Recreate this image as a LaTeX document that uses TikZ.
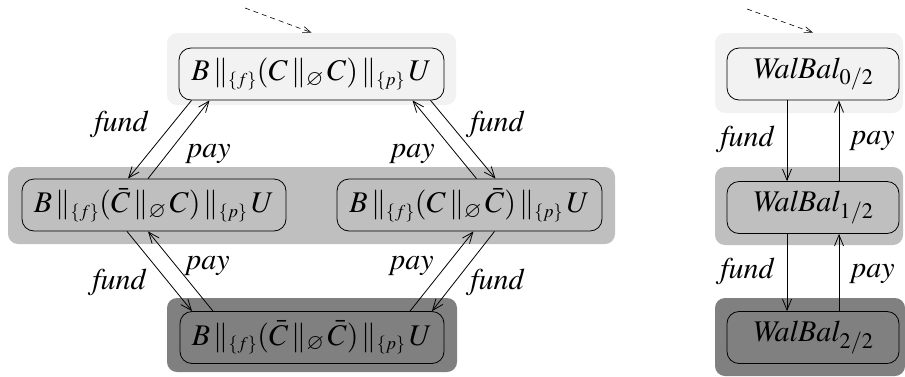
\documentclass[tikz,border=0pt]{standalone}
\usepackage[T1]{fontenc}
\usepackage{mathptmx}
\usepackage{amssymb}
\usetikzlibrary{arrows.meta}

\newcommand{\parsync}[1]{\,\|_{\scriptscriptstyle\{#1\}}}
\newcommand{\parfree}{\,\|_{\varnothing}}

\begin{document}
\begin{tikzpicture}[x=1pt, y=-1pt, line width=0.8pt,
  font=\fontsize{30}{34}\selectfont,
  zone/.style={rounded corners=10pt, inner sep=0pt},
  state/.style={draw, rounded corners=12pt, minimum height=52pt, inner sep=3pt},
  lbl/.style={inner sep=0pt, font=\fontsize{30}{34}\selectfont\itshape},
  >={Straight Barb[length=11pt,width=9pt]}]
  \useasboundingbox (0,0) rectangle (905,376);
  % shaded zones
  \node [zone, fill=gray!10, minimum width=289pt, minimum height=72pt] (topzone) at (311.5,69) {};
  \node [zone, fill=gray!50, minimum width=607pt, minimum height=77pt] (midzone) at (311.5,205.5) {};
  \node [zone, fill=gray, minimum width=290pt, minimum height=74pt] (botzone) at (312,335) {};
  \node [zone, fill=gray!10, minimum width=188pt, minimum height=80pt] (wzone0) at (809,73) {};
  \node [zone, fill=gray!50, minimum width=188pt, minimum height=78pt] (wzone1) at (809,206) {};
  \node [zone, fill=gray, minimum width=190pt, minimum height=78pt] (wzone2) at (810,337) {};
  % states
  \node [state, fill=gray!10, minimum width=265pt] (top) at (311.5,74)
    {$B \parsync{f} (C \parfree\, C) \parsync{p}\, U$};
  \node [state, fill=gray!50, minimum width=264pt] (midl) at (154,205)
    {$B \parsync{f} (\bar{C} \parfree\, C) \parsync{p}\, U$};
  \node [state, fill=gray!50, minimum width=265pt] (midr) at (469.5,205)
    {$B \parsync{f} (C \parfree\, \bar{C}) \parsync{p}\, U$};
  \node [state, fill=gray, minimum width=264pt] (bot) at (312,337.5)
    {$B \parsync{f} (\bar{C} \parfree\, \bar{C}) \parsync{p}\, U$};
  \node [state, fill=gray!10, minimum width=172pt] (w0) at (813,74) {\itshape WalBal$_{0/2}$};
  \node [state, fill=gray!50, minimum width=172pt] (w1) at (813,207.5) {\itshape WalBal$_{1/2}$};
  \node [state, fill=gray, minimum width=172pt] (w2) at (813,337.5) {\itshape WalBal$_{2/2}$};
  % initial arrows
  \coordinate (in0) at (245,8);
  \coordinate (in1) at (747,9);
  \draw [->, dash pattern=on 5pt off 4pt, line width=0.6pt, >={Straight Barb[length=8pt,width=6pt]}]
    (in0) -- (topzone.north);
  \draw [->, dash pattern=on 5pt off 4pt, line width=0.6pt, >={Straight Barb[length=8pt,width=6pt]}]
    (in1) -- ([xshift=4pt]wzone0.north);
  % transitions, left part
  \draw [->] ([xshift=-120pt]top.south) -- ([xshift=-26pt]midl.north);
  \draw [->] ([xshift=-6pt]midl.north) -- ([xshift=-102pt]top.south);
  \draw [->] ([xshift=119pt]top.south) -- ([xshift=26pt]midr.north);
  \draw [->] ([xshift=7pt]midr.north) -- ([xshift=101pt]top.south);
  \draw [->] ([xshift=-27pt]midl.south) -- ([xshift=-120pt]bot.north);
  \draw [->] ([xshift=-99pt]bot.north) -- ([xshift=-6pt]midl.south);
  \draw [->] ([xshift=25pt]midr.south) -- ([xshift=120pt]bot.north);
  \draw [->] ([xshift=98pt]bot.north) -- ([xshift=4pt]midr.south);
  \node [lbl] (f1) at (121,124) {fund};
  \node [lbl] (p1) at (209,154) {pay};
  \node [lbl] (f2) at (497,124) {fund};
  \node [lbl] (p2) at (413,154) {pay};
  \node [lbl] (f3) at (119,282) {fund};
  \node [lbl] (p3) at (208,266) {pay};
  \node [lbl] (f4) at (497,282) {fund};
  \node [lbl] (p4) at (412,266) {pay};
  % transitions, wallet
  \draw [->] ([xshift=-26pt]w0.south) -- ([xshift=-26pt]w1.north);
  \draw [->] ([xshift=26pt]w1.north) -- ([xshift=26pt]w0.south);
  \draw [->] ([xshift=-26pt]w1.south) -- ([xshift=-26pt]w2.north);
  \draw [->] ([xshift=26pt]w2.north) -- ([xshift=26pt]w1.south);
  \node [lbl] (wf1) at (747,139) {fund};
  \node [lbl] (wp1) at (873,141) {pay};
  \node [lbl] (wf2) at (747,271) {fund};
  \node [lbl] (wp2) at (873,274) {pay};
\end{tikzpicture}
\end{document}
